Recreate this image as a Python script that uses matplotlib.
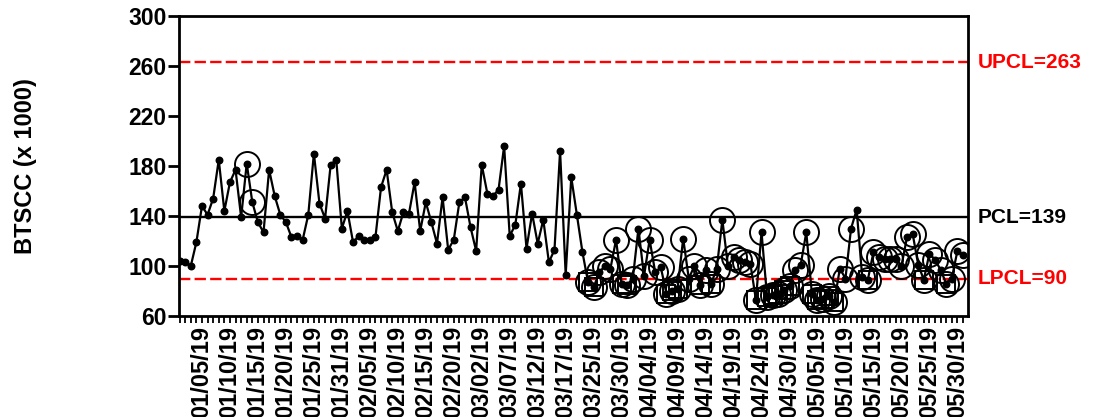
import numpy as np
import matplotlib
matplotlib.use('Agg')
import matplotlib.pyplot as plt

plt.rcParams['font.family'] = ['Liberation Sans', 'DejaVu Sans']
plt.rcParams['font.weight'] = 'bold'

# BTSCC (x 1000), one value per sample
btscc = [104, 103, 100, 119, 148, 141, 154, 185, 144, 167,
         177, 139, 182, 151, 135, 127, 177, 156, 141, 135,
         123, 124, 121, 141, 190, 150, 138, 181, 185, 130,
         144, 119, 124, 121, 121, 123, 163, 177, 143, 128,
         143, 142, 167, 128, 151, 135, 118, 155, 113, 121,
         151, 155, 131, 112, 181, 158, 156, 161, 196, 124,
         133, 166, 114, 142, 118, 137, 103, 113, 192, 93,
         171, 141, 111, 87, 83, 95, 100, 98, 121, 86,
         85, 90, 130, 92, 121, 95, 99, 78, 80, 82,
         122, 90, 100, 85, 97, 86, 98, 137, 100, 107,
         105, 103, 102, 73, 127, 75, 77, 78, 81, 84,
         97, 101, 127, 78, 73, 74, 76, 71, 98, 90,
         130, 145, 91, 89, 111, 107, 106, 106, 106, 100,
         123, 126, 101, 89, 110, 105, 97, 86, 90, 112,
         109]

tick_labels = ['01/05/19', '01/10/19', '01/15/19', '01/20/19', '01/25/19',
               '01/31/19', '02/05/19', '02/10/19', '02/15/19', '02/20/19',
               '03/02/19', '03/07/19', '03/12/19', '03/17/19', '03/25/19',
               '03/30/19', '04/04/19', '04/09/19', '04/14/19', '04/19/19',
               '04/24/19', '04/30/19', '05/05/19', '05/10/19', '05/15/19',
               '05/20/19', '05/25/19', '05/30/19']

upcl, pcl, lpcl = 263, 139, 90
# flagged samples: circled (rule breaks), boxed (below LPCL inside the run)
circled = [12, 13] + [i for i in range(73, len(btscc)) if btscc[i] < pcl]

y = np.array(btscc)
x = np.arange(len(y))
circ = np.array(circled)
boxed = circ[y[circ] < lpcl]

fig = plt.figure(figsize=(10.99, 4.17), dpi=100)
ax = fig.add_axes([0.1629, 0.2422, 0.7179, 0.7194])

ax.axhline(pcl, color='black', lw=1.7, zorder=1)
ax.axhline(upcl, color='red', lw=1.7, dashes=(4.8, 1.8), zorder=1)
ax.axhline(lpcl, color='red', lw=1.7, dashes=(4.8, 1.8), zorder=1)

ax.plot(x, y, color='black', lw=1.6, marker='o', ms=4.7, zorder=3)
ax.plot(circ, y[circ], ls='none', marker='o', ms=18, mfc='none', mec='black', mew=1.4, zorder=4)
ax.plot(boxed, y[boxed], ls='none', marker='s', ms=13, mfc='none', mec='black', mew=1.4, zorder=4)

ax.set_xlim(-0.1, 140.9)
ax.set_ylim(60, 300)
ax.set_yticks(np.arange(60, 301, 40))
lab_pos = [4 + 5 * k for k in range(len(tick_labels))]
ax.set_xticks(lab_pos)
ax.set_xticklabels(tick_labels, rotation=90, fontsize=17, fontweight='bold')
ax.set_xticks(x, minor=True)
ax.tick_params(axis='x', which='both', length=5, width=1.3, pad=2)
ax.tick_params(axis='y', length=8, width=2, labelsize=16.5, pad=1)
for lab in ax.get_yticklabels():
    lab.set_fontweight('bold')
for s in ax.spines.values():
    s.set_linewidth(2)

tr = ax.get_yaxis_transform()
ax.text(1.012, upcl, 'UPCL=263', color='red', fontsize=15, fontweight='bold', transform=tr, ha='left', va='center')
ax.text(1.012, pcl, 'PCL=139', color='black', fontsize=15, fontweight='bold', transform=tr, ha='left', va='center')
ax.text(1.012, lpcl, 'LPCL=90', color='red', fontsize=15, fontweight='bold', transform=tr, ha='left', va='center')

fig.text(0.023, 0.602, 'BTSCC (x 1000)', rotation=90, fontsize=17, fontweight='bold', ha='center', va='center')

fig.savefig('out.png', dpi=100)
